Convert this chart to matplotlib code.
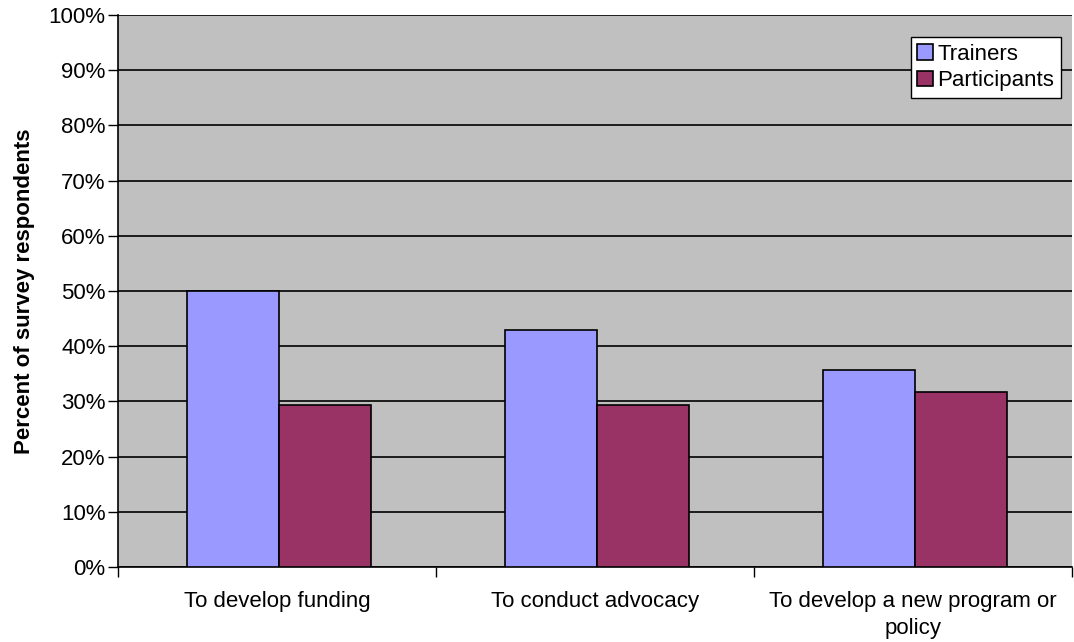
import matplotlib
matplotlib.use("Agg")
import matplotlib.pyplot as plt
import numpy as np

categories = ["To develop funding", "To conduct advocacy", "To develop a new program or\npolicy"]
trainers = [50.0, 42.9, 35.7]
participants = [29.3, 29.3, 31.7]
yticks = [0, 10, 20, 30, 40, 50, 60, 70, 80, 90, 100]
ytick_labels = [f"{v}%" for v in yticks]

plt.rcParams['font.family'] = ['Liberation Sans', 'DejaVu Sans']
FS = 16

fig = plt.figure(figsize=(10.74, 6.42), dpi=100)
ax = fig.add_axes([118/1074, 1-567/642, (1072-118)/1074, (567-15)/642])
ax.set_facecolor('#c0c0c0')

x = np.arange(len(categories)) + 0.006
w = 0.29
ax.bar(x - w/2, trainers, w, color='#9999ff', edgecolor='black', linewidth=1.2, label='Trainers', zorder=3)
ax.bar(x + w/2, participants, w, color='#993366', edgecolor='black', linewidth=1.2, label='Participants', zorder=3)

ax.set_xlim(-0.5, 2.5)
ax.set_ylim(0, 100)
ax.set_yticks(yticks)
ax.set_yticklabels(ytick_labels, fontsize=FS)
ax.yaxis.grid(True, color='black', linewidth=1.2, zorder=1)
ax.set_axisbelow(True)

ax.set_xticks(np.arange(len(categories)))
ax.set_xticklabels(categories, fontsize=FS, linespacing=1.4)
ax.tick_params(axis='x', length=0, pad=17)
ax.set_xticks([-0.5, 0.5, 1.5, 2.5], minor=True)
ax.tick_params(axis='x', which='minor', length=7, width=1, direction='out')
ax.tick_params(axis='y', length=7, width=1, direction='out', pad=2)

for s in ['top', 'right']:
    ax.spines[s].set_visible(False)
for s in ['left', 'bottom']:
    ax.spines[s].set_color('black')
    ax.spines[s].set_linewidth(1.2)

ax.set_ylabel('Percent of survey respondents', fontsize=FS, fontweight='bold', labelpad=10)

leg = ax.legend(loc='upper right', fontsize=FS,
                frameon=True, fancybox=False, edgecolor='black', framealpha=1,
                handlelength=0.7, handleheight=0.7, handletextpad=0.2,
                borderpad=0.3, labelspacing=0.25, borderaxespad=0)
leg.get_frame().set_linewidth(1.0)
leg.set_bbox_to_anchor((1061/1074, 1-37/642), transform=fig.transFigure)

fig.savefig('out.png', dpi=100)
